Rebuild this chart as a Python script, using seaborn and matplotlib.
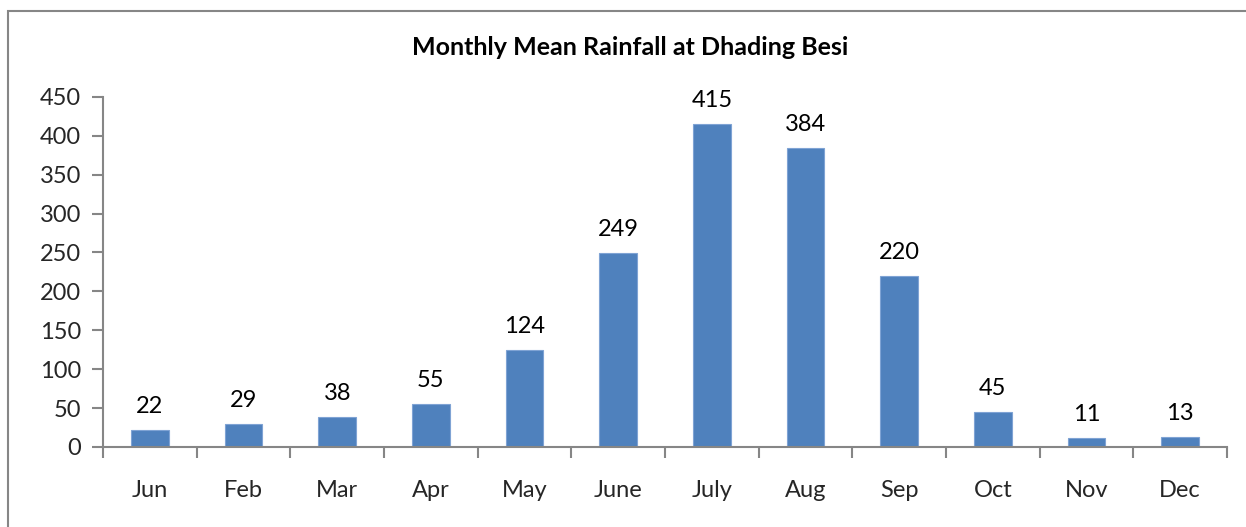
import pandas as pd
import numpy as np
import matplotlib
matplotlib.use("Agg")
import matplotlib.pyplot as plt
import seaborn as sns
from matplotlib.patches import Rectangle

# data
months = ["Jun", "Feb", "Mar", "Apr", "May", "June", "July", "Aug", "Sep", "Oct", "Nov", "Dec"]
rainfall = [22, 29, 38, 55, 124, 249, 415, 384, 220, 45, 11, 13]
y_ticks = [0, 50, 100, 150, 200, 250, 300, 350, 400, 450]

df = pd.DataFrame({"month": months, "rain": rainfall})

sns.set_style("white")
plt.rcParams["font.family"] = ["Lato", "DejaVu Sans"]

fig = plt.figure(figsize=(12.46, 5.27), dpi=100)
ax = fig.add_axes([0.0827, 0.152, 0.902, 0.664])

sns.barplot(data=df, x="month", y="rain", color="#4F81BD", saturation=1,
            width=0.4, edgecolor="#7FA3D4", linewidth=0.8, ax=ax)

for i, v in enumerate(rainfall):
    ax.text(i, v + 17, str(v), ha="center", va="bottom", fontsize=17, color="black")

ax.set_ylim(0, 450)
ax.set_xlim(-0.5, len(months) - 0.5)
ax.set_yticks(y_ticks)
ax.set_yticklabels([str(t) for t in y_ticks], fontsize=17)
ax.set_xlabel("")
ax.set_ylabel("")

# x ticks at category boundaries, labels centered
ax.set_xticks(np.arange(-0.5, len(months), 1.0))
ax.set_xticklabels([])
ax.set_xticks(np.arange(len(months)), minor=True)
ax.set_xticklabels(months, minor=True, fontsize=17)
ax.tick_params(axis="x", which="minor", bottom=False, length=0, pad=24)
ax.tick_params(axis="x", which="major", bottom=True, direction="out", length=8,
               width=1.5, color="#868686")
ax.tick_params(axis="y", left=True, direction="out", length=8, width=1.5,
               color="#868686", pad=8)

for s in ["top", "right"]:
    ax.spines[s].set_visible(False)
for s in ["left", "bottom"]:
    ax.spines[s].set_color("#868686")
    ax.spines[s].set_linewidth(1.5)

fig.text(0.506, 0.909, "Monthly Mean Rainfall at Dhading Besi", ha="center", va="center",
         fontsize=18, fontweight="bold", color="black")

# outer chart frame
fig.patches.append(Rectangle((8 / 1246, -0.05), 1.2, 1 - 11 / 527 + 0.05,
                             transform=fig.transFigure, fill=False,
                             edgecolor="#868686", linewidth=1.5))

fig.savefig("out.png", dpi=100)
